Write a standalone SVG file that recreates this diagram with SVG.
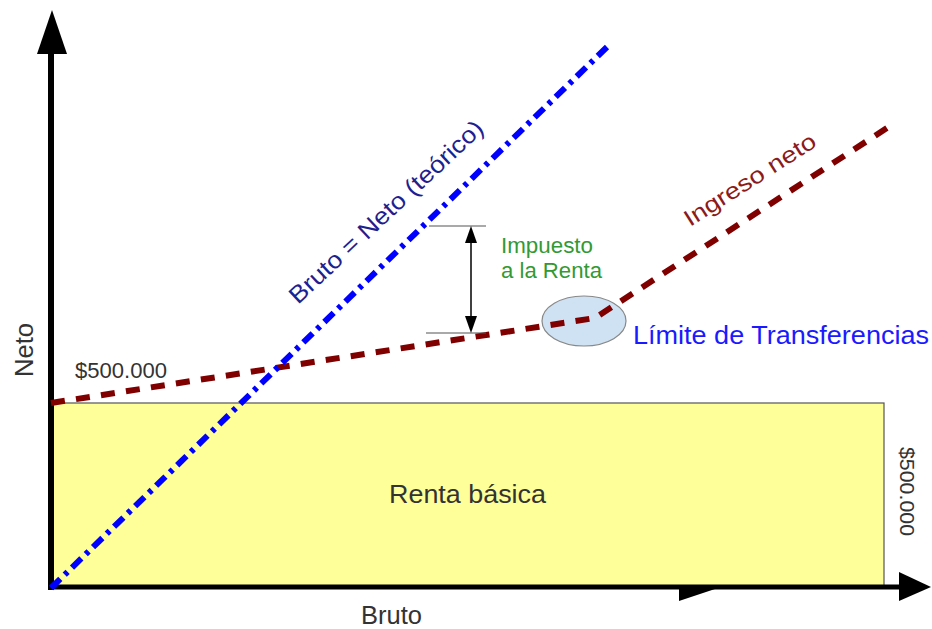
<svg xmlns="http://www.w3.org/2000/svg" width="932" height="629" viewBox="0 0 932 629">
<style>
text{font-family:"Liberation Sans",Arial,sans-serif;}
.dark{fill:#333333;}
.axis{stroke:#000;fill:none;}
.tick{stroke:#555;stroke-width:1.2;}
</style>
<rect width="932" height="629" fill="#ffffff"/>
<g id="renta-basica">
<rect x="51" y="403" width="833" height="185" fill="#ffff99" stroke="#555" stroke-width="1.2"/>
<text class="dark" x="389" y="503" font-size="25" textLength="157" lengthAdjust="spacingAndGlyphs">Renta básica</text>
</g>
<g id="axes">
<line class="axis" x1="51" y1="590" x2="51" y2="50" stroke-width="6"/>
<polygon points="52,10 37,54 67,54" fill="#000"/>
<line class="axis" x1="48" y1="587" x2="902" y2="587" stroke-width="5"/>
<polygon points="899,572 931,587 899,601" fill="#000"/>
<polygon points="679,589 715,589 679,601" fill="#000"/>
<text class="dark" x="361" y="624" font-size="25" textLength="61" lengthAdjust="spacingAndGlyphs">Bruto</text>
<text class="dark" transform="translate(33,377) rotate(-90)" font-size="25" textLength="54" lengthAdjust="spacingAndGlyphs">Neto</text>
<text class="dark" x="75" y="378" font-size="22" textLength="92" lengthAdjust="spacingAndGlyphs">$500.000</text>
<text class="dark" transform="translate(900,447) rotate(90)" font-size="21" textLength="89" lengthAdjust="spacingAndGlyphs">$500.000</text>
</g>
<g id="limite">
<ellipse cx="584" cy="321" rx="42" ry="25" fill="#cfe2f3" stroke="#888" stroke-width="1.2"/>
<text x="633" y="344" font-size="25" fill="#1a1aff" textLength="296" lengthAdjust="spacingAndGlyphs">Límite de Transferencias</text>
</g>
<g id="connectors">
<polyline points="51,403 595,318 887,128" fill="none" stroke="#800000" stroke-width="6" stroke-dasharray="14 11.28"/>
<line x1="51" y1="588" x2="607" y2="47" stroke="#0000ff" stroke-width="6" stroke-dasharray="13 6.17 4 6.17"/>
</g>
<g id="impuesto">
<line class="tick" x1="429" y1="226" x2="486" y2="226"/>
<line class="tick" x1="426" y1="333" x2="486" y2="333"/>
<line x1="471" y1="240" x2="471" y2="320" stroke="#000" stroke-width="1.5"/>
<polygon points="471,226 465,243 477,243" fill="#000"/>
<polygon points="471,333 465,316 477,316" fill="#000"/>
<text x="501" y="253" font-size="22" fill="#339933" textLength="92" lengthAdjust="spacingAndGlyphs">Impuesto</text>
<text x="501" y="278" font-size="22" fill="#339933" textLength="101" lengthAdjust="spacingAndGlyphs">a la Renta</text>
</g>
<g id="labels">
<text transform="translate(298,305) rotate(-43)" font-size="24" fill="#1f1f8f" textLength="256" lengthAdjust="spacingAndGlyphs">Bruto = Neto (teórico)</text>
<text transform="translate(690,227) rotate(-32.5)" font-size="23" fill="#8b1a1a" textLength="152" lengthAdjust="spacingAndGlyphs">Ingreso neto</text>
</g>
</svg>
